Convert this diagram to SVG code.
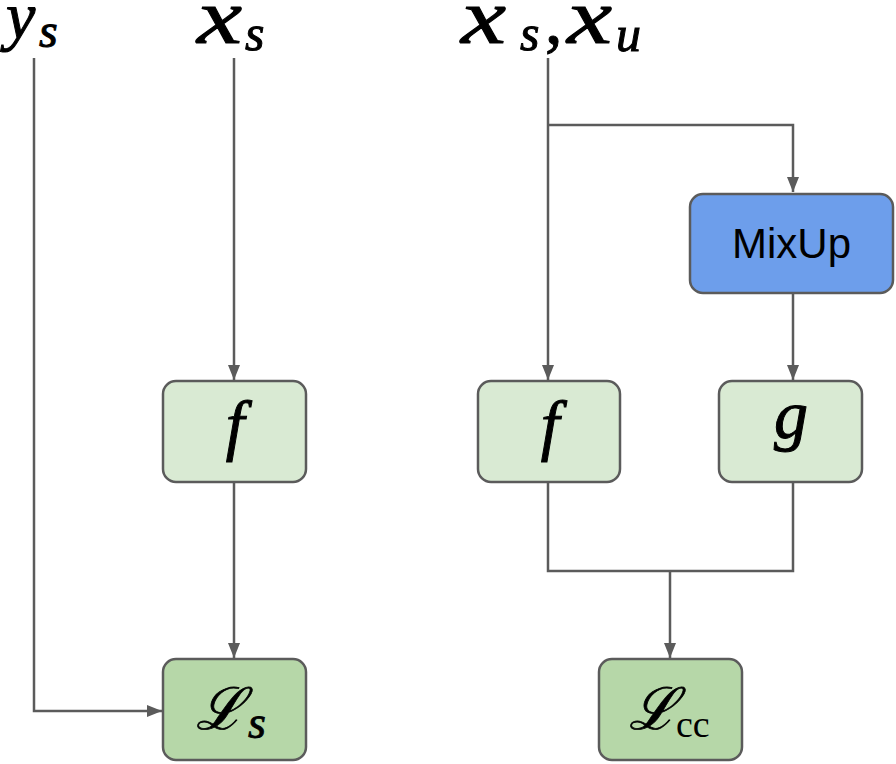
<svg xmlns="http://www.w3.org/2000/svg" width="896" height="764" viewBox="0 0 896 764">
<style>
.c{fill:none;stroke:#5b5b5b;stroke-width:2.5}
.box{stroke:#5b5b5b;stroke-width:2.5}
.lg{fill:#d9ead3}
.dg{fill:#b6d7a8}
.bl{fill:#6d9eeb}
</style>
<defs>
<marker id="ah" markerWidth="16" markerHeight="13" refX="15" refY="6.5" orient="auto" markerUnits="userSpaceOnUse">
<path d="M0,0.5 L15,6.5 L0,12.5 Z" fill="#5b5b5b"/>
</marker>
</defs>
<rect width="896" height="764" fill="#fff"/>
<g id="connectors">
<path class="c" d="M34,58 V711 H162" marker-end="url(#ah)"/>
<path class="c" d="M234,58 V380" marker-end="url(#ah)"/>
<path class="c" d="M234,482 V658" marker-end="url(#ah)"/>
<path class="c" d="M548,58 V380" marker-end="url(#ah)"/>
<path class="c" d="M548,125 H793 V192" marker-end="url(#ah)"/>
<path class="c" d="M793,293 V380" marker-end="url(#ah)"/>
<path class="c" d="M548,482 V571 H793 V482"/>
<path class="c" d="M670,571 V658" marker-end="url(#ah)"/>
</g>
<g id="label-ys" fill="#000" stroke="#000" stroke-width="1">
<text x="6" y="38" font-size="66" font-family="Liberation Serif" font-style="italic">y</text>
<text x="39" y="47" font-size="48" font-family="Liberation Serif" font-style="italic">s</text>
</g>
<g id="label-xs" fill="#000" stroke="#000" stroke-width="1">
<text x="0" y="0" font-size="78" font-family="Liberation Serif" font-style="italic" transform="translate(197,43) scale(1.3,1)">x</text>
<text x="245" y="50" font-size="50" font-family="Liberation Serif" font-style="italic">s</text>
</g>
<g id="label-xsxu" fill="#000" stroke="#000" stroke-width="1">
<text x="0" y="0" font-size="78" font-family="Liberation Serif" font-style="italic" transform="translate(461,43) scale(1.3,1)">x</text>
<text x="520" y="50" font-size="50" font-family="Liberation Serif" font-style="italic">s</text>
<text x="545" y="43" font-size="70" font-family="Liberation Serif">,</text>
<text x="0" y="0" font-size="78" font-family="Liberation Serif" font-style="italic" transform="translate(567,43) scale(1.3,1)">x</text>
<text x="616" y="51" font-size="50" font-family="Liberation Serif" font-style="italic">u</text>
</g>
<g id="node-f1"><rect class="box lg" x="163" y="381" width="143" height="101" rx="13"/><text x="235" y="448" font-size="67" text-anchor="middle" font-family="Liberation Serif" font-style="italic" fill="#000" stroke="#000" stroke-width="1">f</text></g>
<g id="node-Ls"><rect class="box dg" x="163" y="659" width="143" height="101" rx="13"/>
<text x="196" y="729" font-size="58" font-family="DejaVu Serif" font-style="italic" fill="#000" stroke="#000" stroke-width="0.8">ℒ</text>
<text x="248" y="738" font-size="46" font-family="Liberation Serif" font-style="italic" fill="#000" stroke="#000" stroke-width="0.8">s</text></g>
<g id="node-mixup"><rect class="box bl" x="690" y="194" width="203" height="99" rx="13"/><text x="791.5" y="258" font-size="42" text-anchor="middle" font-family="Liberation Sans" fill="#000">MixUp</text></g>
<g id="node-f2"><rect class="box lg" x="478" y="381" width="142" height="101" rx="13"/><text x="550" y="448" font-size="67" text-anchor="middle" font-family="Liberation Serif" font-style="italic" fill="#000" stroke="#000" stroke-width="1">f</text></g>
<g id="node-g"><rect class="box lg" x="719" y="381" width="143" height="101" rx="13"/><text x="791" y="438" font-size="68" text-anchor="middle" font-family="Liberation Serif" font-style="italic" fill="#000" stroke="#000" stroke-width="1">g</text></g>
<g id="node-Lcc"><rect class="box dg" x="599" y="659" width="143" height="101" rx="13"/>
<text x="629" y="729" font-size="58" font-family="DejaVu Serif" font-style="italic" fill="#000" stroke="#000" stroke-width="0.8">ℒ</text>
<text x="676" y="737" font-size="38" font-family="Liberation Serif" fill="#000">cc</text></g>
</svg>
